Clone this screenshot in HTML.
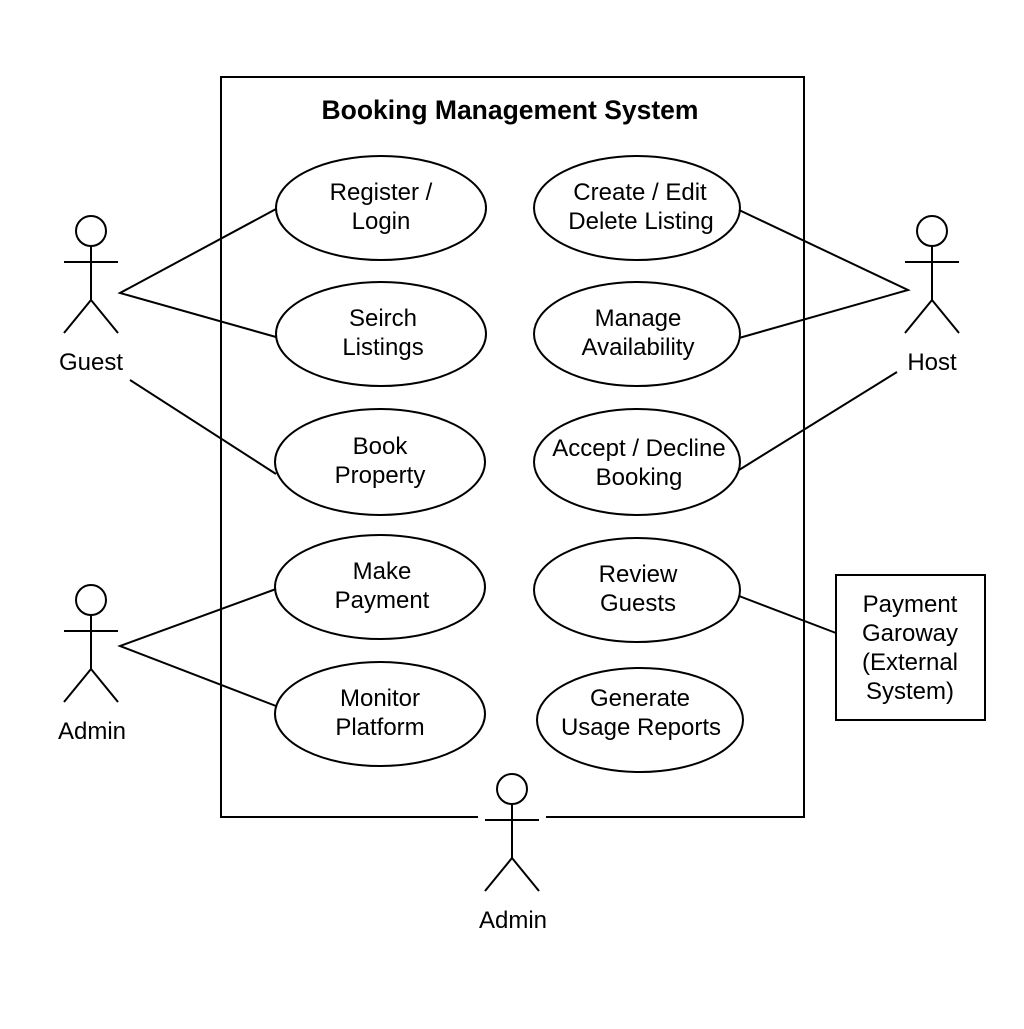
<!DOCTYPE html>
<html><head><style>body{margin:0;background:#fff}</style></head><body>
<svg width="1024" height="1024" viewBox="0 0 1024 1024" xmlns="http://www.w3.org/2000/svg" font-family="Liberation Sans, sans-serif" font-size="24" fill="none" stroke="#000" stroke-width="2">
<rect width="1024" height="1024" fill="#fff" stroke="none"/>
<path d="M478 817 H221 V77 H804 V817 H546"/>
<text x="510" y="119" text-anchor="middle" font-weight="bold" font-size="26.5" fill="#000" stroke="none">Booking Management System</text>
<g>
<ellipse cx="381" cy="208" rx="105" ry="52"/>
<ellipse cx="381" cy="334" rx="105" ry="52"/>
<ellipse cx="380" cy="462" rx="105" ry="53"/>
<ellipse cx="380" cy="587" rx="105" ry="52"/>
<ellipse cx="380" cy="714" rx="105" ry="52"/>
<ellipse cx="637" cy="208" rx="103" ry="52"/>
<ellipse cx="637" cy="334" rx="103" ry="52"/>
<ellipse cx="637" cy="462" rx="103" ry="53"/>
<ellipse cx="637" cy="590" rx="103" ry="52"/>
<ellipse cx="640" cy="720" rx="103" ry="52"/>
</g>
<g fill="#000" stroke="none" text-anchor="middle">
<text x="381" y="200">Register /</text><text x="381" y="229">Login</text>
<text x="383" y="326">Seirch</text><text x="383" y="355">Listings</text>
<text x="380" y="454">Book</text><text x="380" y="483">Property</text>
<text x="382" y="579">Make</text><text x="382" y="608">Payment</text>
<text x="380" y="706">Monitor</text><text x="380" y="735">Platform</text>
<text x="640" y="200">Create / Edit</text><text x="641" y="229">Delete Listing</text>
<text x="638" y="326">Manage</text><text x="638" y="355">Availability</text>
<text x="639" y="456">Accept / Decline</text><text x="639" y="485">Booking</text>
<text x="638" y="582">Review</text><text x="638" y="611">Guests</text>
<text x="640" y="706">Generate</text><text x="641" y="735">Usage Reports</text>
<text x="91" y="370">Guest</text>
<text x="932" y="370">Host</text>
<text x="92" y="739">Admin</text>
<text x="513" y="928">Admin</text>
<text x="910" y="612">Payment</text><text x="910" y="641">Garoway</text><text x="910" y="670">(External</text><text x="910" y="699">System)</text>
</g>
<rect x="836" y="575" width="149" height="145"/>
<g><circle cx="91" cy="231" r="15"/><path d="M91 246 V300 M64 262 H118 M91 300 L64 333 M91 300 L118 333"/></g>
<g transform="translate(841,0)"><circle cx="91" cy="231" r="15"/><path d="M91 246 V300 M64 262 H118 M91 300 L64 333 M91 300 L118 333"/></g>
<g transform="translate(0,369)"><circle cx="91" cy="231" r="15"/><path d="M91 246 V300 M64 262 H118 M91 300 L64 333 M91 300 L118 333"/></g>
<g transform="translate(421,558)"><circle cx="91" cy="231" r="15"/><path d="M91 246 V300 M64 262 H118 M91 300 L64 333 M91 300 L118 333"/></g>
<path d="M276 209 L120 293 L276 337 M130 380 L276 474"/>
<path d="M739 210 L908 290 L739 338 M897 372 L739 470"/>
<path d="M276 589 L120 646 L276 706"/>
<path d="M739 596 L836 633"/>
</svg>
</body></html>
